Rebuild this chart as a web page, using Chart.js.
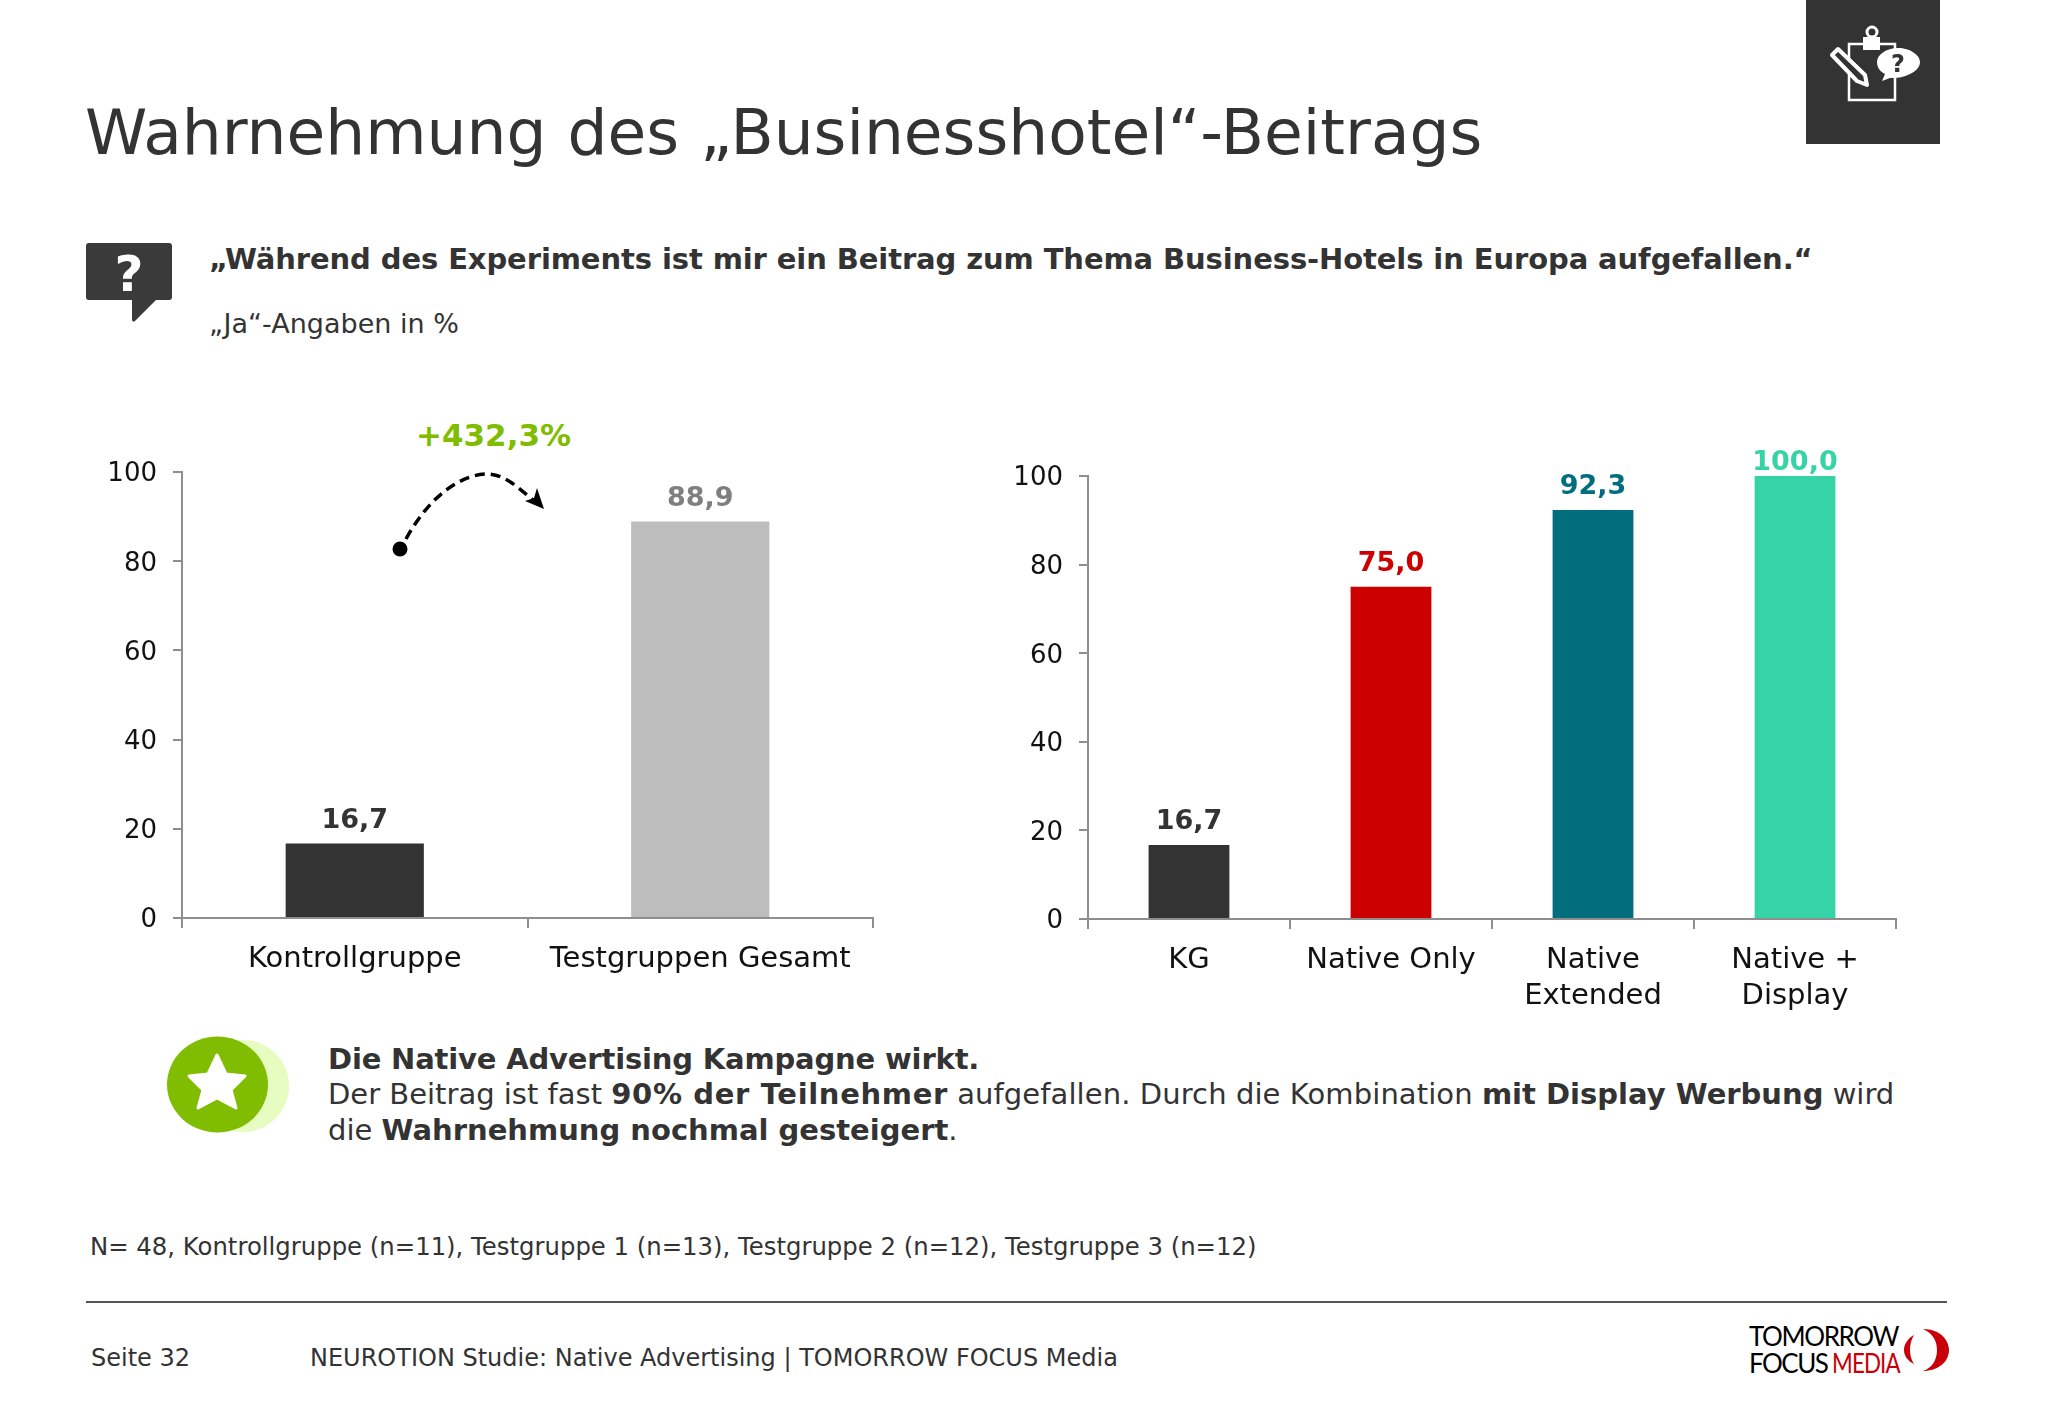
<!DOCTYPE html>
<html lang="de">
<head>
<meta charset="utf-8">
<title>Wahrnehmung des Businesshotel-Beitrags</title>
<script src="https://cdn.jsdelivr.net/npm/chart.js@4/dist/chart.umd.js"></script>
<style>
  html, body { margin: 0; padding: 0; background: #fff; }
  #page { position: relative; width: 2048px; height: 1418px; overflow: hidden; font-family: "DejaVu Sans", sans-serif; color: #333; }
  .t { position: absolute; white-space: nowrap; }
  canvas { position: absolute; }
  svg { position: absolute; left: 0; top: 0; }
  b { font-weight: 700; }
</style>
</head>
<body>
<div id="page">
  <div class="t" style="left:85px;top:93px;font-size:63px;line-height:80px;word-spacing:1px">Wahrnehmung des „Businesshotel“-Beitrags</div>
  <div class="t" style="left:209px;top:240px;font-size:29px;line-height:38px;font-weight:700;letter-spacing:-0.1px">„Während des Experiments ist mir ein Beitrag zum Thema Business-Hotels in Europa aufgefallen.“</div>
  <div class="t" style="left:209px;top:307px;font-size:27px;line-height:34px">„Ja“-Angaben in %</div>
  <div class="t" style="left:416px;top:416px;font-size:31px;line-height:38px;font-weight:700;color:#80bc00">+432,3%</div>

  <canvas id="leftChart" width="820" height="560" style="left:80px;top:440px;width:820px;height:560px"></canvas>
  <canvas id="rightChart" width="950" height="620" style="left:980px;top:420px;width:950px;height:620px"></canvas>

  <div class="t" style="left:328px;top:1042px;font-size:29px;line-height:35.3px">
    <b style="letter-spacing:-0.17px">Die Native Advertising Kampagne wirkt.</b><br>
    Der Beitrag ist fast <b style="letter-spacing:0.65px">90% der Teilnehmer</b> <span style="letter-spacing:0.1px">aufgefallen. Durch die Kombination</span> <b>mit Display Werbung</b> wird<br>
    die <b>Wahrnehmung nochmal gesteigert</b>.
  </div>
  <div class="t" style="left:90px;top:1231px;font-size:24.35px;line-height:32px">N= 48, Kontrollgruppe (n=11), Testgruppe 1 (n=13), Testgruppe 2 (n=12), Testgruppe 3 (n=12)</div>
  <div class="t" style="left:91px;top:1342px;font-size:24px;line-height:32px">Seite 32</div>
  <div class="t" style="left:310px;top:1342px;font-size:24px;line-height:32px">NEUROTION Studie: Native Advertising | TOMORROW FOCUS Media</div>
  <div class="t" style="left:1749px;top:1323px;font-family:Lato,sans-serif;font-size:26px;line-height:27px;color:#000;letter-spacing:-1.4px">TOMORROW</div>
  <div class="t" style="left:1749px;top:1350px;font-family:Lato,sans-serif;font-size:26px;line-height:27px;color:#000;letter-spacing:-1.5px">FOCUS</div>
  <div class="t" style="left:1832px;top:1350px;font-family:Lato,sans-serif;font-size:26px;line-height:27px;color:#c8000a;letter-spacing:-1px;transform:scaleX(0.86);transform-origin:left">MEDIA</div>

  <svg width="2048" height="1418" viewBox="0 0 2048 1418">
    <!-- header icon -->
    <rect x="1806" y="0" width="134" height="144" fill="#333"/>
    <path d="M1849 44H1895V100H1849Z" fill="none" stroke="#fff" stroke-width="2.5"/>
    <rect x="1863" y="37" width="17" height="13" fill="#fff"/>
    <circle cx="1872" cy="32" r="5" fill="none" stroke="#fff" stroke-width="3"/>
    <path d="M1832 55L1838 49L1865 75L1867 85L1857 81Z" fill="#333" stroke="#fff" stroke-width="4" stroke-linejoin="round"/>
    <path d="M1898 48C1910 48 1920 55 1920 62C1920 72 1903 79 1890 78L1882 81L1885 74C1879 71 1877 66 1877 62C1877 55 1886 48 1898 48Z" fill="#fff"/>
    <text x="1898" y="72" font-family="DejaVu Sans" font-weight="700" font-size="24" text-anchor="middle" fill="#333">?</text>
    <!-- question bubble -->
    <path d="M89 243H169Q172 243 172 246V297Q172 300 169 300H156L135 321Q132 323 132 319V300H89Q86 300 86 297V246Q86 243 89 243Z" fill="#3a3a3a"/>
    <text x="129" y="291" font-family="DejaVu Sans" font-weight="700" font-size="50" text-anchor="middle" fill="#fff">?</text>
    <!-- growth arrow -->
    <circle cx="400" cy="549" r="7.5" fill="#000"/>
    <path d="M406 539C430 495 462 474 488 474C508 475 522 492 537 503" fill="none" stroke="#000" stroke-width="3.5" stroke-dasharray="10 6"/>
    <path d="M544 509L525 501L534 498L537 488Z" fill="#000"/>
    <!-- star badge -->
    <circle cx="243" cy="1086" r="46" fill="#e6fcc0"/>
    <ellipse cx="217.5" cy="1084.5" rx="50.5" ry="48" fill="#80bc00"/>
    <path d="M217 1055L226 1074L245 1076L231 1090L236 1108L217 1098L198 1108L203 1090L189 1076L208 1074Z" fill="#fff" stroke="#fff" stroke-width="3" stroke-linejoin="round"/>
    <!-- footer -->
    <line x1="86" y1="1302" x2="1947" y2="1302" stroke="#555" stroke-width="2"/>
    <path d="M1923 1329C1940 1329 1949 1340 1949 1350C1949 1362 1938 1371 1923 1371C1932 1368 1937 1360 1937 1350C1937 1340 1932 1333 1923 1329Z" fill="#c8000a"/>
    <path d="M1914 1335C1907 1339 1904 1345 1904 1350C1904 1356 1908 1361 1914 1364C1911 1359 1910 1355 1910 1350C1910 1345 1911 1340 1914 1335Z" fill="#c8000a"/>
  </svg>
</div>

<script>
var leftLabels = ["Kontrollgruppe", "Testgruppen Gesamt"];
var leftValues = [16.7, 88.9];
var leftColors = ["#333333", "#bdbdbd"];
var leftTextColors = ["#333333", "#7f7f7f"];

var rightLabels = ["KG", "Native Only", ["Native", "Extended"], ["Native +", "Display"]];
var rightValues = [16.7, 75.0, 92.3, 100.0];
var rightColors = ["#333333", "#cc0000", "#026e7d", "#36d3a6"];
var rightTextColors = ["#333333", "#cc0000", "#026e7d", "#36d3a6"];

var yMax = 100;
var yStep = 20;
var axisColor = "#8e8e8e";
var fontName = "'DejaVu Sans'";

// writes the value above each bar, with a decimal comma
var valueLabels = {
  id: "valueLabels",
  afterDatasetsDraw: function(chart, args, opts) {
    var ctx = chart.ctx;
    ctx.save();
    ctx.font = "bold 27px " + fontName;
    ctx.textAlign = "center";
    ctx.textBaseline = "alphabetic";
    chart.getDatasetMeta(0).data.forEach(function(bar, i) {
      ctx.fillStyle = opts.colors[i];
      // labels stay close to the top of the plot instead of rising above it
      var y = Math.max(bar.y - 16, chart.chartArea.top - 6);
      ctx.fillText(chart.data.datasets[0].data[i].toFixed(1).replace(".", ","), bar.x, y);
    });
    ctx.restore();
  }
};

function makeChart(id, labels, values, colors, textColors, yWidth, xHeight, pad) {
  return new Chart(id, {
    type: "bar",
    data: {
      labels: labels,
      datasets: [{ data: values, backgroundColor: colors, barPercentage: 0.4, categoryPercentage: 1 }]
    },
    options: {
      responsive: false,
      animation: false,
      layout: { padding: pad },
      plugins: {
        legend: { display: false },
        tooltip: { enabled: false },
        valueLabels: { colors: textColors }
      },
      scales: {
        x: {
          afterFit: function(s) { s.height = xHeight; },
          border: { color: axisColor, width: 2 },
          grid: { drawOnChartArea: false, drawTicks: true, tickLength: 10, color: axisColor, lineWidth: 2 },
          ticks: { color: "#111", font: { family: fontName, size: 29, lineHeight: 1.22 }, padding: 14, maxRotation: 0, autoSkip: false }
        },
        y: {
          min: 0,
          max: yMax,
          afterFit: function(s) { s.width = yWidth; },
          border: { color: axisColor, width: 2 },
          grid: { drawOnChartArea: false, drawTicks: true, tickLength: 9, color: axisColor, lineWidth: 2 },
          // empty first line with a small line height moves the label a little below its tick
          ticks: {
            stepSize: yStep, color: "#111", padding: 16,
            font: { family: fontName, size: 26, lineHeight: 0.2 },
            callback: function(v) { return ["", String(v)]; }
          }
        }
      }
    },
    plugins: [valueLabels]
  });
}

makeChart("leftChart", leftLabels, leftValues, leftColors, leftTextColors, 102, 82, { top: 32, right: 27, left: 0, bottom: 0 });
makeChart("rightChart", rightLabels, rightValues, rightColors, rightTextColors, 108, 121, { top: 56, right: 34, left: 0, bottom: 0 });
</script>
</body>
</html>
